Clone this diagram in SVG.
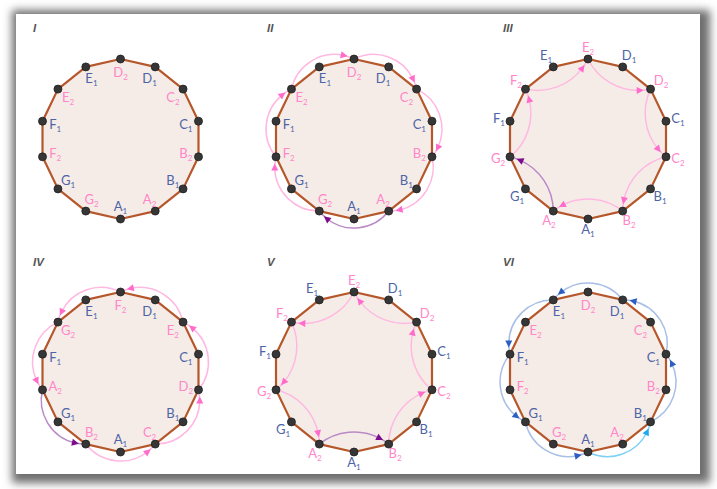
<svg xmlns="http://www.w3.org/2000/svg" width="717" height="489" viewBox="0 0 717 489">
<style>
.poly{fill:#f6ece7;stroke:#b5572b;stroke-width:2.2;stroke-linejoin:round}
.dot{fill:#363636;stroke:#1f1f1f;stroke-width:0.8}
.lbl{font-family:Lato,"Open Sans",sans-serif;font-size:13px;text-anchor:middle}
.b{fill:#4d64a6}
.p{fill:#ff86c9}
.sub{font-size:8px}
.num{font-family:"Liberation Sans",sans-serif;font-style:italic;font-weight:bold;font-size:11.5px;fill:#555}
.arc{fill:none;stroke-width:1.5}
.pk{stroke:#ffb8e2;marker-mid:url(#ah-pink)}
.pu{stroke:#b98ac8;marker-mid:url(#ah-purple)}
.bl{stroke:#a9bfe6;marker-mid:url(#ah-blue)}
.cy{stroke:#7fd0f5;marker-mid:url(#ah-cyan)}
</style>
<defs>
<filter id="shadow" x="-5%" y="-5%" width="110%" height="110%"><feGaussianBlur stdDeviation="4"/></filter>
<marker id="ah-pink" viewBox="-5 -5 10 10" markerWidth="10" markerHeight="10" refX="0" refY="0" markerUnits="userSpaceOnUse" orient="auto"><path d="M-3.5,-3.5L3.5,0L-3.5,3.5z" fill="#ff6ccb"/></marker>
<marker id="ah-purple" viewBox="-5 -5 10 10" markerWidth="10" markerHeight="10" refX="0" refY="0" markerUnits="userSpaceOnUse" orient="auto"><path d="M-3.5,-3.5L3.5,0L-3.5,3.5z" fill="#7b0c8c"/></marker>
<marker id="ah-blue" viewBox="-5 -5 10 10" markerWidth="10" markerHeight="10" refX="0" refY="0" markerUnits="userSpaceOnUse" orient="auto"><path d="M-3.5,-3.5L3.5,0L-3.5,3.5z" fill="#2b5fc4"/></marker>
<marker id="ah-cyan" viewBox="-5 -5 10 10" markerWidth="10" markerHeight="10" refX="0" refY="0" markerUnits="userSpaceOnUse" orient="auto"><path d="M-3.5,-3.5L3.5,0L-3.5,3.5z" fill="#1fa8ee"/></marker>
<polygon id="poly14" class="poly" points="0,-80 34.71,-72.08 62.55,-49.88 77.99,-17.8 77.99,17.8 62.55,49.88 34.71,72.08 0,80 -34.71,72.08 -62.55,49.88 -77.99,17.8 -77.99,-17.8 -62.55,-49.88 -34.71,-72.08"/>
</defs>
<rect width="717" height="489" fill="#fff"/>
<g id="frame">
<rect x="12" y="10" width="698" height="473" fill="#6e6e6e" filter="url(#shadow)"/>
<rect x="16" y="14" width="684" height="460" fill="#fff"/>
</g>
<g id="titles">
<text class="num" x="33" y="32">I</text>
<text class="num" x="267" y="32">II</text>
<text class="num" x="503" y="32">III</text>
<text class="num" x="33" y="265.5">IV</text>
<text class="num" x="267" y="265.5">V</text>
<text class="num" x="503" y="265.5">VI</text>
</g>
<g id="polygons">
<use href="#poly14" transform="translate(120.5,139)"/>
<use href="#poly14" transform="translate(354,139)"/>
<use href="#poly14" transform="translate(588,139)"/>
<use href="#poly14" transform="translate(120.5,372)"/>
<use href="#poly14" transform="translate(354,372)"/>
<use href="#poly14" transform="translate(588,372)"/>
</g>
<g id="connectors">
<g id="conn-2" transform="translate(354,139)">
<path id="c2-A2-G2" class="arc pu" transform="rotate(154.286)" d="M0,-80A43.94,43.94 0 0 1 59.19,-59.7A43.94,43.94 0 0 1 62.55,-49.88"/>
<path id="c2-G2-F2" class="arc pk" transform="rotate(205.714)" d="M0,-80A43.94,43.94 0 0 1 59.19,-59.7A43.94,43.94 0 0 1 62.55,-49.88"/>
<path id="c2-F2-E2" class="arc pk" transform="rotate(257.143)" d="M0,-80A43.94,43.94 0 0 1 59.19,-59.7A43.94,43.94 0 0 1 62.55,-49.88"/>
<path id="c2-E2-D2" class="arc pk" transform="rotate(308.571)" d="M0,-80A43.94,43.94 0 0 1 59.19,-59.7A43.94,43.94 0 0 1 62.55,-49.88"/>
<path id="c2-D2-C2" class="arc pk" d="M0,-80A43.94,43.94 0 0 1 59.19,-59.7A43.94,43.94 0 0 1 62.55,-49.88"/>
<path id="c2-C2-B2" class="arc pk" transform="rotate(51.429)" d="M0,-80A43.94,43.94 0 0 1 59.19,-59.7A43.94,43.94 0 0 1 62.55,-49.88"/>
<path id="c2-B2-A2" class="arc pk" transform="rotate(102.857)" d="M0,-80A43.94,43.94 0 0 1 59.19,-59.7A43.94,43.94 0 0 1 62.55,-49.88"/>
</g>
<g id="conn-3" transform="translate(588,139)">
<path id="c3-E2-D2" class="arc pk" d="M0,-80A56.2,56.2 0 0 0 52.22,-48.6A56.2,56.2 0 0 0 62.55,-49.88"/>
<path id="c3-D2-C2" class="arc pk" transform="rotate(51.429)" d="M0,-80A56.2,56.2 0 0 0 52.22,-48.6A56.2,56.2 0 0 0 62.55,-49.88"/>
<path id="c3-C2-B2" class="arc pk" transform="rotate(102.857)" d="M0,-80A56.2,56.2 0 0 0 52.22,-48.6A56.2,56.2 0 0 0 62.55,-49.88"/>
<path id="c3-B2-A2" class="arc pk" transform="rotate(154.286)" d="M0,-80A56.2,56.2 0 0 0 52.22,-48.6A56.2,56.2 0 0 0 62.55,-49.88"/>
<path id="c3-A2-G2" class="arc pu" transform="rotate(205.714)" d="M0,-80A56.2,56.2 0 0 0 52.22,-48.6A56.2,56.2 0 0 0 62.55,-49.88"/>
<path id="c3-G2-F2" class="arc pk" transform="rotate(257.143)" d="M0,-80A56.2,56.2 0 0 0 52.22,-48.6A56.2,56.2 0 0 0 62.55,-49.88"/>
<path id="c3-F2-E2" class="arc pk" transform="rotate(308.571)" d="M0,-80A56.2,56.2 0 0 0 52.22,-48.6A56.2,56.2 0 0 0 62.55,-49.88"/>
</g>
<g id="conn-4" transform="translate(120.5,372)">
<path id="c4-F2-G2" class="arc pk" d="M0,-80A43.94,43.94 0 0 0 -59.19,-59.7A43.94,43.94 0 0 0 -62.55,-49.88"/>
<path id="c4-G2-A2" class="arc pk" transform="rotate(308.571)" d="M0,-80A43.94,43.94 0 0 0 -59.19,-59.7A43.94,43.94 0 0 0 -62.55,-49.88"/>
<path id="c4-A2-B2" class="arc pu" transform="rotate(257.143)" d="M0,-80A43.94,43.94 0 0 0 -59.19,-59.7A43.94,43.94 0 0 0 -62.55,-49.88"/>
<path id="c4-B2-C2" class="arc pk" transform="rotate(205.714)" d="M0,-80A43.94,43.94 0 0 0 -59.19,-59.7A43.94,43.94 0 0 0 -62.55,-49.88"/>
<path id="c4-C2-D2" class="arc pk" transform="rotate(154.286)" d="M0,-80A43.94,43.94 0 0 0 -59.19,-59.7A43.94,43.94 0 0 0 -62.55,-49.88"/>
<path id="c4-D2-E2" class="arc pk" transform="rotate(102.857)" d="M0,-80A43.94,43.94 0 0 0 -59.19,-59.7A43.94,43.94 0 0 0 -62.55,-49.88"/>
<path id="c4-E2-F2" class="arc pk" transform="rotate(51.429)" d="M0,-80A43.94,43.94 0 0 0 -59.19,-59.7A43.94,43.94 0 0 0 -62.55,-49.88"/>
</g>
<g id="conn-5" transform="translate(354,372)">
<path id="c5-E2-F2" class="arc pk" d="M0,-80A56.2,56.2 0 0 1 -52.22,-48.6A56.2,56.2 0 0 1 -62.55,-49.88"/>
<path id="c5-F2-G2" class="arc pk" transform="rotate(308.571)" d="M0,-80A56.2,56.2 0 0 1 -52.22,-48.6A56.2,56.2 0 0 1 -62.55,-49.88"/>
<path id="c5-G2-A2" class="arc pk" transform="rotate(257.143)" d="M0,-80A56.2,56.2 0 0 1 -52.22,-48.6A56.2,56.2 0 0 1 -62.55,-49.88"/>
<path id="c5-A2-B2" class="arc pu" transform="rotate(205.714)" d="M0,-80A56.2,56.2 0 0 1 -52.22,-48.6A56.2,56.2 0 0 1 -62.55,-49.88"/>
<path id="c5-B2-C2" class="arc pk" transform="rotate(154.286)" d="M0,-80A56.2,56.2 0 0 1 -52.22,-48.6A56.2,56.2 0 0 1 -62.55,-49.88"/>
<path id="c5-C2-D2" class="arc pk" transform="rotate(102.857)" d="M0,-80A56.2,56.2 0 0 1 -52.22,-48.6A56.2,56.2 0 0 1 -62.55,-49.88"/>
<path id="c5-D2-E2" class="arc pk" transform="rotate(51.429)" d="M0,-80A56.2,56.2 0 0 1 -52.22,-48.6A56.2,56.2 0 0 1 -62.55,-49.88"/>
</g>
<g id="conn-6" transform="translate(588,372)">
<path id="c6-A1-B1" class="arc cy" transform="rotate(180)" d="M0,-80A43.94,43.94 0 0 0 -59.19,-59.7A43.94,43.94 0 0 0 -62.55,-49.88"/>
<path id="c6-B1-C1" class="arc bl" transform="rotate(128.571)" d="M0,-80A43.94,43.94 0 0 0 -59.19,-59.7A43.94,43.94 0 0 0 -62.55,-49.88"/>
<path id="c6-C1-D1" class="arc bl" transform="rotate(77.143)" d="M0,-80A43.94,43.94 0 0 0 -59.19,-59.7A43.94,43.94 0 0 0 -62.55,-49.88"/>
<path id="c6-D1-E1" class="arc bl" transform="rotate(25.714)" d="M0,-80A43.94,43.94 0 0 0 -59.19,-59.7A43.94,43.94 0 0 0 -62.55,-49.88"/>
<path id="c6-E1-F1" class="arc bl" transform="rotate(334.286)" d="M0,-80A43.94,43.94 0 0 0 -59.19,-59.7A43.94,43.94 0 0 0 -62.55,-49.88"/>
<path id="c6-F1-G1" class="arc bl" transform="rotate(282.857)" d="M0,-80A43.94,43.94 0 0 0 -59.19,-59.7A43.94,43.94 0 0 0 -62.55,-49.88"/>
<path id="c6-G1-A1" class="arc bl" transform="rotate(231.429)" d="M0,-80A43.94,43.94 0 0 0 -59.19,-59.7A43.94,43.94 0 0 0 -62.55,-49.88"/>
</g>
</g>
<g id="nodes-1" transform="translate(120.5,139)">
<g id="n1-D2"><circle class="dot" cx="0" cy="-80" r="4"/><text class="lbl p" x="0" y="-62.5">D<tspan class="sub" dy="3">2</tspan></text></g>
<g id="n1-D1"><circle class="dot" cx="34.71" cy="-72.08" r="4"/><text class="lbl b" x="29.07" y="-55.87">D<tspan class="sub" dy="3">1</tspan></text></g>
<g id="n1-C2"><circle class="dot" cx="62.55" cy="-49.88" r="4"/><text class="lbl p" x="52.38" y="-37.27">C<tspan class="sub" dy="3">2</tspan></text></g>
<g id="n1-C1"><circle class="dot" cx="77.99" cy="-17.8" r="4"/><text class="lbl b" x="65.32" y="-10.41">C<tspan class="sub" dy="3">1</tspan></text></g>
<g id="n1-B2"><circle class="dot" cx="77.99" cy="17.8" r="4"/><text class="lbl p" x="65.32" y="19.41">B<tspan class="sub" dy="3">2</tspan></text></g>
<g id="n1-B1"><circle class="dot" cx="62.55" cy="49.88" r="4"/><text class="lbl b" x="52.38" y="46.27">B<tspan class="sub" dy="3">1</tspan></text></g>
<g id="n1-A2"><circle class="dot" cx="34.71" cy="72.08" r="4"/><text class="lbl p" x="29.07" y="64.87">A<tspan class="sub" dy="3">2</tspan></text></g>
<g id="n1-A1"><circle class="dot" cx="0" cy="80" r="4"/><text class="lbl b" x="0" y="71.5">A<tspan class="sub" dy="3">1</tspan></text></g>
<g id="n1-G2"><circle class="dot" cx="-34.71" cy="72.08" r="4"/><text class="lbl p" x="-29.07" y="64.87">G<tspan class="sub" dy="3">2</tspan></text></g>
<g id="n1-G1"><circle class="dot" cx="-62.55" cy="49.88" r="4"/><text class="lbl b" x="-52.38" y="46.27">G<tspan class="sub" dy="3">1</tspan></text></g>
<g id="n1-F2"><circle class="dot" cx="-77.99" cy="17.8" r="4"/><text class="lbl p" x="-65.32" y="19.41">F<tspan class="sub" dy="3">2</tspan></text></g>
<g id="n1-F1"><circle class="dot" cx="-77.99" cy="-17.8" r="4"/><text class="lbl b" x="-65.32" y="-10.41">F<tspan class="sub" dy="3">1</tspan></text></g>
<g id="n1-E2"><circle class="dot" cx="-62.55" cy="-49.88" r="4"/><text class="lbl p" x="-52.38" y="-37.27">E<tspan class="sub" dy="3">2</tspan></text></g>
<g id="n1-E1"><circle class="dot" cx="-34.71" cy="-72.08" r="4"/><text class="lbl b" x="-29.07" y="-55.87">E<tspan class="sub" dy="3">1</tspan></text></g>
</g>
<g id="nodes-2" transform="translate(354,139)">
<g id="n2-D2"><circle class="dot" cx="0" cy="-80" r="4"/><text class="lbl p" x="0" y="-62.5">D<tspan class="sub" dy="3">2</tspan></text></g>
<g id="n2-D1"><circle class="dot" cx="34.71" cy="-72.08" r="4"/><text class="lbl b" x="29.07" y="-55.87">D<tspan class="sub" dy="3">1</tspan></text></g>
<g id="n2-C2"><circle class="dot" cx="62.55" cy="-49.88" r="4"/><text class="lbl p" x="52.38" y="-37.27">C<tspan class="sub" dy="3">2</tspan></text></g>
<g id="n2-C1"><circle class="dot" cx="77.99" cy="-17.8" r="4"/><text class="lbl b" x="65.32" y="-10.41">C<tspan class="sub" dy="3">1</tspan></text></g>
<g id="n2-B2"><circle class="dot" cx="77.99" cy="17.8" r="4"/><text class="lbl p" x="65.32" y="19.41">B<tspan class="sub" dy="3">2</tspan></text></g>
<g id="n2-B1"><circle class="dot" cx="62.55" cy="49.88" r="4"/><text class="lbl b" x="52.38" y="46.27">B<tspan class="sub" dy="3">1</tspan></text></g>
<g id="n2-A2"><circle class="dot" cx="34.71" cy="72.08" r="4"/><text class="lbl p" x="29.07" y="64.87">A<tspan class="sub" dy="3">2</tspan></text></g>
<g id="n2-A1"><circle class="dot" cx="0" cy="80" r="4"/><text class="lbl b" x="0" y="71.5">A<tspan class="sub" dy="3">1</tspan></text></g>
<g id="n2-G2"><circle class="dot" cx="-34.71" cy="72.08" r="4"/><text class="lbl p" x="-29.07" y="64.87">G<tspan class="sub" dy="3">2</tspan></text></g>
<g id="n2-G1"><circle class="dot" cx="-62.55" cy="49.88" r="4"/><text class="lbl b" x="-52.38" y="46.27">G<tspan class="sub" dy="3">1</tspan></text></g>
<g id="n2-F2"><circle class="dot" cx="-77.99" cy="17.8" r="4"/><text class="lbl p" x="-65.32" y="19.41">F<tspan class="sub" dy="3">2</tspan></text></g>
<g id="n2-F1"><circle class="dot" cx="-77.99" cy="-17.8" r="4"/><text class="lbl b" x="-65.32" y="-10.41">F<tspan class="sub" dy="3">1</tspan></text></g>
<g id="n2-E2"><circle class="dot" cx="-62.55" cy="-49.88" r="4"/><text class="lbl p" x="-52.38" y="-37.27">E<tspan class="sub" dy="3">2</tspan></text></g>
<g id="n2-E1"><circle class="dot" cx="-34.71" cy="-72.08" r="4"/><text class="lbl b" x="-29.07" y="-55.87">E<tspan class="sub" dy="3">1</tspan></text></g>
</g>
<g id="nodes-3" transform="translate(588,139)">
<g id="n3-E2"><circle class="dot" cx="0" cy="-80" r="4"/><text class="lbl p" x="0" y="-87.5">E<tspan class="sub" dy="3">2</tspan></text></g>
<g id="n3-D1"><circle class="dot" cx="34.71" cy="-72.08" r="4"/><text class="lbl b" x="41" y="-79.5">D<tspan class="sub" dy="3">1</tspan></text></g>
<g id="n3-D2"><circle class="dot" cx="62.55" cy="-49.88" r="4"/><text class="lbl p" x="73" y="-54.5">D<tspan class="sub" dy="3">2</tspan></text></g>
<g id="n3-C1"><circle class="dot" cx="77.99" cy="-17.8" r="4"/><text class="lbl b" x="90" y="-16.5">C<tspan class="sub" dy="3">1</tspan></text></g>
<g id="n3-C2"><circle class="dot" cx="77.99" cy="17.8" r="4"/><text class="lbl p" x="90" y="23.5">C<tspan class="sub" dy="3">2</tspan></text></g>
<g id="n3-B1"><circle class="dot" cx="62.55" cy="49.88" r="4"/><text class="lbl b" x="72" y="61.5">B<tspan class="sub" dy="3">1</tspan></text></g>
<g id="n3-B2"><circle class="dot" cx="34.71" cy="72.08" r="4"/><text class="lbl p" x="41" y="85.5">B<tspan class="sub" dy="3">2</tspan></text></g>
<g id="n3-A1"><circle class="dot" cx="0" cy="80" r="4"/><text class="lbl b" x="0" y="94.5">A<tspan class="sub" dy="3">1</tspan></text></g>
<g id="n3-A2"><circle class="dot" cx="-34.71" cy="72.08" r="4"/><text class="lbl p" x="-39" y="85.5">A<tspan class="sub" dy="3">2</tspan></text></g>
<g id="n3-G1"><circle class="dot" cx="-62.55" cy="49.88" r="4"/><text class="lbl b" x="-71" y="61.5">G<tspan class="sub" dy="3">1</tspan></text></g>
<g id="n3-G2"><circle class="dot" cx="-77.99" cy="17.8" r="4"/><text class="lbl p" x="-90" y="23.5">G<tspan class="sub" dy="3">2</tspan></text></g>
<g id="n3-F1"><circle class="dot" cx="-77.99" cy="-17.8" r="4"/><text class="lbl b" x="-89" y="-16.5">F<tspan class="sub" dy="3">1</tspan></text></g>
<g id="n3-F2"><circle class="dot" cx="-62.55" cy="-49.88" r="4"/><text class="lbl p" x="-72" y="-54.5">F<tspan class="sub" dy="3">2</tspan></text></g>
<g id="n3-E1"><circle class="dot" cx="-34.71" cy="-72.08" r="4"/><text class="lbl b" x="-42" y="-79.5">E<tspan class="sub" dy="3">1</tspan></text></g>
</g>
<g id="nodes-4" transform="translate(120.5,372)">
<g id="n4-F2"><circle class="dot" cx="0" cy="-80" r="4"/><text class="lbl p" x="0" y="-62.5">F<tspan class="sub" dy="3">2</tspan></text></g>
<g id="n4-D1"><circle class="dot" cx="34.71" cy="-72.08" r="4"/><text class="lbl b" x="29.07" y="-55.87">D<tspan class="sub" dy="3">1</tspan></text></g>
<g id="n4-E2"><circle class="dot" cx="62.55" cy="-49.88" r="4"/><text class="lbl p" x="52.38" y="-37.27">E<tspan class="sub" dy="3">2</tspan></text></g>
<g id="n4-C1"><circle class="dot" cx="77.99" cy="-17.8" r="4"/><text class="lbl b" x="65.32" y="-10.41">C<tspan class="sub" dy="3">1</tspan></text></g>
<g id="n4-D2"><circle class="dot" cx="77.99" cy="17.8" r="4"/><text class="lbl p" x="65.32" y="19.41">D<tspan class="sub" dy="3">2</tspan></text></g>
<g id="n4-B1"><circle class="dot" cx="62.55" cy="49.88" r="4"/><text class="lbl b" x="52.38" y="46.27">B<tspan class="sub" dy="3">1</tspan></text></g>
<g id="n4-C2"><circle class="dot" cx="34.71" cy="72.08" r="4"/><text class="lbl p" x="29.07" y="64.87">C<tspan class="sub" dy="3">2</tspan></text></g>
<g id="n4-A1"><circle class="dot" cx="0" cy="80" r="4"/><text class="lbl b" x="0" y="71.5">A<tspan class="sub" dy="3">1</tspan></text></g>
<g id="n4-B2"><circle class="dot" cx="-34.71" cy="72.08" r="4"/><text class="lbl p" x="-29.07" y="64.87">B<tspan class="sub" dy="3">2</tspan></text></g>
<g id="n4-G1"><circle class="dot" cx="-62.55" cy="49.88" r="4"/><text class="lbl b" x="-52.38" y="46.27">G<tspan class="sub" dy="3">1</tspan></text></g>
<g id="n4-A2"><circle class="dot" cx="-77.99" cy="17.8" r="4"/><text class="lbl p" x="-65.32" y="19.41">A<tspan class="sub" dy="3">2</tspan></text></g>
<g id="n4-F1"><circle class="dot" cx="-77.99" cy="-17.8" r="4"/><text class="lbl b" x="-65.32" y="-10.41">F<tspan class="sub" dy="3">1</tspan></text></g>
<g id="n4-G2"><circle class="dot" cx="-62.55" cy="-49.88" r="4"/><text class="lbl p" x="-52.38" y="-37.27">G<tspan class="sub" dy="3">2</tspan></text></g>
<g id="n4-E1"><circle class="dot" cx="-34.71" cy="-72.08" r="4"/><text class="lbl b" x="-29.07" y="-55.87">E<tspan class="sub" dy="3">1</tspan></text></g>
</g>
<g id="nodes-5" transform="translate(354,372)">
<g id="n5-E2"><circle class="dot" cx="0" cy="-80" r="4"/><text class="lbl p" x="0" y="-87.5">E<tspan class="sub" dy="3">2</tspan></text></g>
<g id="n5-D1"><circle class="dot" cx="34.71" cy="-72.08" r="4"/><text class="lbl b" x="41" y="-79.5">D<tspan class="sub" dy="3">1</tspan></text></g>
<g id="n5-D2"><circle class="dot" cx="62.55" cy="-49.88" r="4"/><text class="lbl p" x="73" y="-54.5">D<tspan class="sub" dy="3">2</tspan></text></g>
<g id="n5-C1"><circle class="dot" cx="77.99" cy="-17.8" r="4"/><text class="lbl b" x="90" y="-16.5">C<tspan class="sub" dy="3">1</tspan></text></g>
<g id="n5-C2"><circle class="dot" cx="77.99" cy="17.8" r="4"/><text class="lbl p" x="90" y="23.5">C<tspan class="sub" dy="3">2</tspan></text></g>
<g id="n5-B1"><circle class="dot" cx="62.55" cy="49.88" r="4"/><text class="lbl b" x="72" y="61.5">B<tspan class="sub" dy="3">1</tspan></text></g>
<g id="n5-B2"><circle class="dot" cx="34.71" cy="72.08" r="4"/><text class="lbl p" x="41" y="85.5">B<tspan class="sub" dy="3">2</tspan></text></g>
<g id="n5-A1"><circle class="dot" cx="0" cy="80" r="4"/><text class="lbl b" x="0" y="94.5">A<tspan class="sub" dy="3">1</tspan></text></g>
<g id="n5-A2"><circle class="dot" cx="-34.71" cy="72.08" r="4"/><text class="lbl p" x="-39" y="85.5">A<tspan class="sub" dy="3">2</tspan></text></g>
<g id="n5-G1"><circle class="dot" cx="-62.55" cy="49.88" r="4"/><text class="lbl b" x="-71" y="61.5">G<tspan class="sub" dy="3">1</tspan></text></g>
<g id="n5-G2"><circle class="dot" cx="-77.99" cy="17.8" r="4"/><text class="lbl p" x="-90" y="23.5">G<tspan class="sub" dy="3">2</tspan></text></g>
<g id="n5-F1"><circle class="dot" cx="-77.99" cy="-17.8" r="4"/><text class="lbl b" x="-89" y="-16.5">F<tspan class="sub" dy="3">1</tspan></text></g>
<g id="n5-F2"><circle class="dot" cx="-62.55" cy="-49.88" r="4"/><text class="lbl p" x="-72" y="-54.5">F<tspan class="sub" dy="3">2</tspan></text></g>
<g id="n5-E1"><circle class="dot" cx="-34.71" cy="-72.08" r="4"/><text class="lbl b" x="-42" y="-79.5">E<tspan class="sub" dy="3">1</tspan></text></g>
</g>
<g id="nodes-6" transform="translate(588,372)">
<g id="n6-D2"><circle class="dot" cx="0" cy="-80" r="4"/><text class="lbl p" x="0" y="-62.5">D<tspan class="sub" dy="3">2</tspan></text></g>
<g id="n6-D1"><circle class="dot" cx="34.71" cy="-72.08" r="4"/><text class="lbl b" x="29.07" y="-55.87">D<tspan class="sub" dy="3">1</tspan></text></g>
<g id="n6-C2"><circle class="dot" cx="62.55" cy="-49.88" r="4"/><text class="lbl p" x="52.38" y="-37.27">C<tspan class="sub" dy="3">2</tspan></text></g>
<g id="n6-C1"><circle class="dot" cx="77.99" cy="-17.8" r="4"/><text class="lbl b" x="65.32" y="-10.41">C<tspan class="sub" dy="3">1</tspan></text></g>
<g id="n6-B2"><circle class="dot" cx="77.99" cy="17.8" r="4"/><text class="lbl p" x="65.32" y="19.41">B<tspan class="sub" dy="3">2</tspan></text></g>
<g id="n6-B1"><circle class="dot" cx="62.55" cy="49.88" r="4"/><text class="lbl b" x="52.38" y="46.27">B<tspan class="sub" dy="3">1</tspan></text></g>
<g id="n6-A2"><circle class="dot" cx="34.71" cy="72.08" r="4"/><text class="lbl p" x="29.07" y="64.87">A<tspan class="sub" dy="3">2</tspan></text></g>
<g id="n6-A1"><circle class="dot" cx="0" cy="80" r="4"/><text class="lbl b" x="0" y="71.5">A<tspan class="sub" dy="3">1</tspan></text></g>
<g id="n6-G2"><circle class="dot" cx="-34.71" cy="72.08" r="4"/><text class="lbl p" x="-29.07" y="64.87">G<tspan class="sub" dy="3">2</tspan></text></g>
<g id="n6-G1"><circle class="dot" cx="-62.55" cy="49.88" r="4"/><text class="lbl b" x="-52.38" y="46.27">G<tspan class="sub" dy="3">1</tspan></text></g>
<g id="n6-F2"><circle class="dot" cx="-77.99" cy="17.8" r="4"/><text class="lbl p" x="-65.32" y="19.41">F<tspan class="sub" dy="3">2</tspan></text></g>
<g id="n6-F1"><circle class="dot" cx="-77.99" cy="-17.8" r="4"/><text class="lbl b" x="-65.32" y="-10.41">F<tspan class="sub" dy="3">1</tspan></text></g>
<g id="n6-E2"><circle class="dot" cx="-62.55" cy="-49.88" r="4"/><text class="lbl p" x="-52.38" y="-37.27">E<tspan class="sub" dy="3">2</tspan></text></g>
<g id="n6-E1"><circle class="dot" cx="-34.71" cy="-72.08" r="4"/><text class="lbl b" x="-29.07" y="-55.87">E<tspan class="sub" dy="3">1</tspan></text></g>
</g>
</svg>
